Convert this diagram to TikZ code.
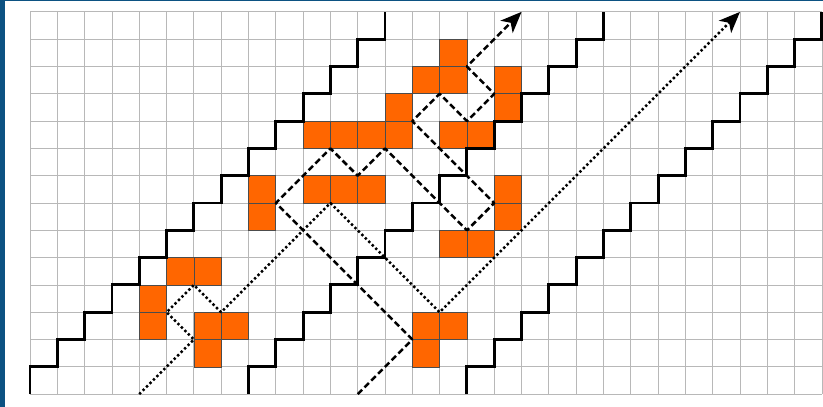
\documentclass[tikz,border=0pt]{standalone}
\usetikzlibrary{arrows.meta}
\definecolor{frameblue}{RGB}{12,82,130}
\definecolor{cellorange}{RGB}{255,102,0}
\begin{document}
\begin{tikzpicture}[x=1cm,y=1cm,
  gridline/.style={draw=black!28, line width=0.8pt},
  cell/.style={fill=cellorange, draw=black!70, line width=0.7pt},
  stair/.style={draw=black, line width=3pt, line join=miter},
  dashray/.style={draw=black, line width=2.6pt, dash pattern=on 6.5pt off 3.5pt, line join=round},
  dotray/.style={draw=black, line width=2.6pt, dash pattern=on 2.5pt off 2.6pt, line join=round},
  tip/.style={-{Stealth[length=22pt,width=18pt,inset=6pt]}}
]
\useasboundingbox (-1.1,-0.47) rectangle (29.04,14.435);
\fill[white] (-1.1,-0.47) rectangle (29.04,14.435);
\fill[frameblue] (-1.1,-0.47) rectangle (-0.917,14.435);
\fill[frameblue] (-1.1,14.387) rectangle (29.04,14.435);
% grid
\draw[gridline] (0,0) grid (29,14);
% orange cells
\foreach \c in {{4,2},{4,3},{5,4},{6,4},{6,2},{7,2},{6,1},{8,6},{8,7},
  {10,7},{11,7},{12,7},{10,9},{11,9},{12,9},{13,9},{13,10},{14,11},{15,11},{15,12},
  {15,9},{16,9},{17,10},{17,11},{17,6},{17,7},{15,5},{16,5},{14,2},{15,2},{14,1}}
  \draw[cell] (\c) rectangle ++(1,1);
% staircases
\draw[stair] (0,0) -- (0,1) \foreach \k in {1,...,13} { -- (\k,\k) -- (\k,\k+1) };
\draw[stair] (8,0) -- (8,1) \foreach \k in {1,...,13} { -- (8+\k,\k) -- (8+\k,\k+1) };
\draw[stair] (16,0) -- (16,1) \foreach \k in {1,...,13} { -- (16+\k,\k) -- (16+\k,\k+1) };
% rays
\coordinate (dashStart) at (12,0);
\coordinate (dashEnd) at (18,14);
\coordinate (dotStart) at (4,0);
\coordinate (dotEnd) at (26,14);
\draw[dashray, tip] (dashStart) -- (14,2) -- (9,7) -- (11,9) -- (12,8) -- (13,9) -- (16,6) -- (17,7)
  -- (14,10) -- (15,11) -- (16,10) -- (17,11) -- (16,12) -- (dashEnd);
\draw[dotray, tip] (dotStart) -- (6,2) -- (5,3) -- (6,4) -- (7,3) -- (11,7) -- (15,3) -- (dotEnd);
\end{tikzpicture}
\end{document}
